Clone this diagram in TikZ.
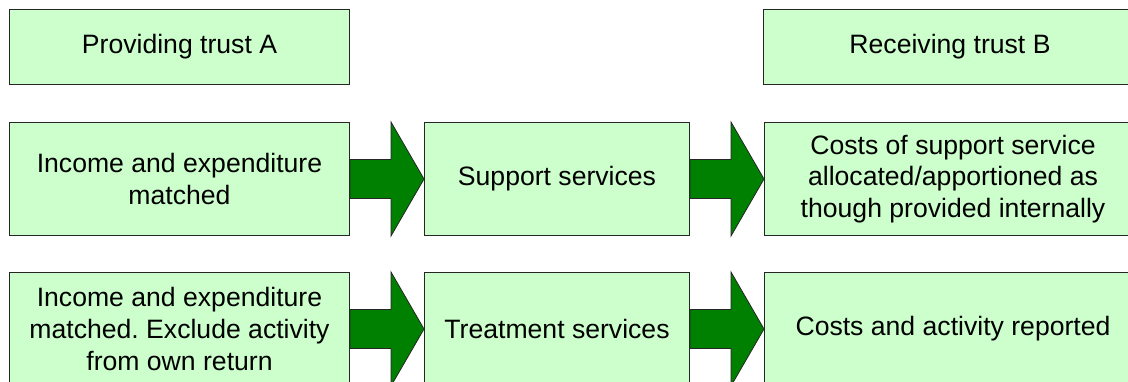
\documentclass[tikz,border=0pt]{standalone}
\usepackage{fontspec}
\setmainfont{Liberation Sans}
\usepackage{tikz}
\definecolor{boxgreen}{HTML}{CCFFCC}
\definecolor{arrowgreen}{HTML}{008000}
\frenchspacing

\begin{document}
\begin{tikzpicture}[font=\fontsize{13.3}{15.85}\selectfont]

\tikzstyle{trustbox}=[align=center,draw=black!85,line width=0.5pt,fill=boxgreen,
anchor=north west,inner sep=0pt]
\tikzstyle{toprow}=[trustbox,minimum height=37.5pt]
\tikzstyle{flowbox}=[trustbox,minimum height=56.5pt]
\tikzstyle{fatarrow}=[draw=black!85,line width=0.4pt,fill=arrowgreen]

\useasboundingbox (0,0) rectangle (564pt,-190.5pt);
\clip (0,0) rectangle (564pt,-190.5pt);

% header row
\node[toprow,minimum width=170pt] (provA) at (4.5pt,-4.5pt) {Providing trust A};
\node[toprow,minimum width=186.5pt] (recvB) at (381.5pt,-4.5pt) {Receiving trust B};

% support services row
\node[flowbox,minimum width=170pt] (supIn) at (4.5pt,-61pt) {Income and expenditure\\matched};
\node[flowbox,minimum width=132.5pt] (supServ) at (212pt,-61pt) {Support services};
\node[flowbox,minimum width=188.5pt] (supCost) at (382pt,-61pt)
	{Costs of support service\\allocated/apportioned as\\though provided internally};

% treatment services row
\node[flowbox,minimum width=170pt] (trtIn) at (4.5pt,-136pt)
	{Income and expenditure\\matched. Exclude activity\\from own return};
\node[flowbox,minimum width=132.5pt] (trtServ) at (212pt,-136pt) {Treatment services};
\node[flowbox,minimum width=188.5pt] (trtCost) at (382pt,-136pt) {Costs and activity reported};

\foreach \from/\to in {supIn/supServ, supServ/supCost, trtIn/trtServ, trtServ/trtCost}
	\filldraw[fatarrow] ([yshift=9.75pt]\from.east)
		-- ([xshift=-16.5pt,yshift=9.75pt]\to.west)
		-- ([xshift=-16.5pt]\to.north west)
		-- (\to.west)
		-- ([xshift=-16.5pt]\to.south west)
		-- ([xshift=-16.5pt,yshift=-9.75pt]\to.west)
		-- ([yshift=-9.75pt]\from.east) -- cycle;
\end{tikzpicture}
\end{document}
